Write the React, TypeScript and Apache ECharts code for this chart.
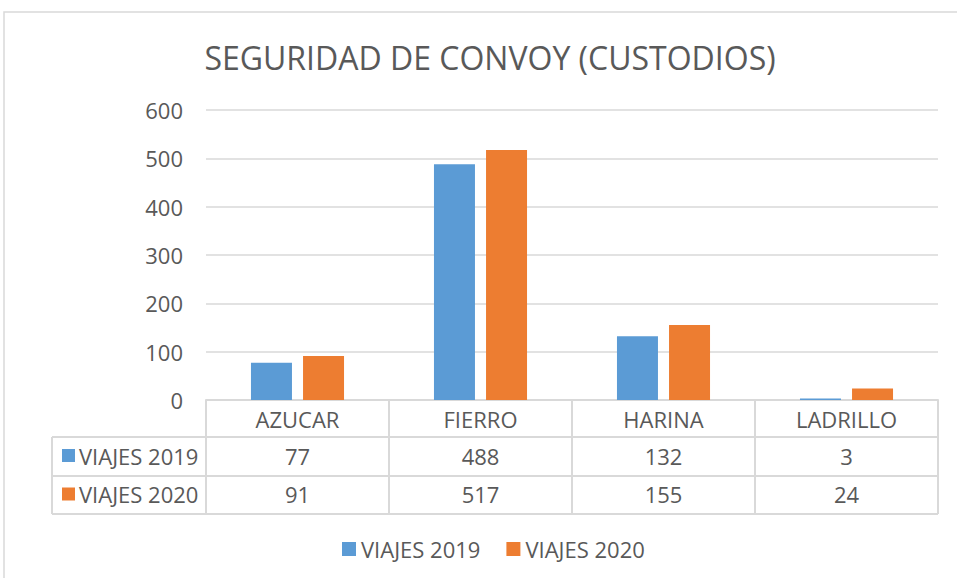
import React, { useEffect, useRef } from "react";
import * as echarts from "echarts";

const categories = ["AZUCAR", "FIERRO", "HARINA", "LADRILLO"];
const seriesNames = ["VIAJES 2019", "VIAJES 2020"];
const viajes2019 = [77, 488, 132, 3];
const viajes2020 = [91, 517, 155, 24];
const colors = ["#5b9bd5", "#ed7d31"];

const FONT = "'Open Sans', 'Noto Sans', sans-serif";
const TXT = "#595959";
const LINE = "#d9d9d9";
const FS = 22;

export default function App() {
  const ref = useRef<HTMLDivElement>(null);
  useEffect(() => {
    document.body.style.margin = "0";
    if (!ref.current) return;
    const chart = echarts.init(ref.current, null, { renderer: "svg" });
    const gridLeft = 206;
    const gridRight = 19;
    const gridTop = 110;
    const gridBottom = 178;
    chart.setOption({
      animation: false,
      backgroundColor: "#ffffff",
      textStyle: { fontFamily: FONT },
      title: {
        text: "SEGURIDAD DE CONVOY (CUSTODIOS)",
        left: 485,
        textAlign: "center",
        top: 36,
        textStyle: { fontFamily: FONT, fontSize: 32, fontWeight: "normal", color: TXT },
      },
      legend: {
        data: seriesNames,
        left: 337,
        top: 533,
        icon: "rect",
        itemWidth: 14,
        itemHeight: 14,
        itemGap: 26,
        textStyle: { fontFamily: FONT, fontSize: FS, color: TXT, padding: [0, 0, 0, 0] },
      },
      grid: { left: gridLeft, right: gridRight, top: gridTop, bottom: gridBottom },
      xAxis: {
        type: "category",
        data: categories,
        axisLine: { lineStyle: { color: LINE, width: 2 } },
        axisTick: { show: false },
        axisLabel: { margin: 8, fontFamily: FONT, fontSize: FS, color: TXT },
      },
      yAxis: {
        type: "value",
        min: 0,
        max: 600,
        interval: 100,
        axisLine: { show: false },
        axisTick: { show: false },
        axisLabel: { margin: 23, fontFamily: FONT, fontSize: FS, color: TXT },
        splitLine: { lineStyle: { color: LINE, width: 1.5 } },
      },
      series: [
        {
          name: seriesNames[0],
          type: "bar",
          data: viajes2019,
          barWidth: 41,
          barGap: "27%",
          itemStyle: { color: colors[0] },
        },
        {
          name: seriesNames[1],
          type: "bar",
          data: viajes2020,
          barWidth: 41,
          itemStyle: { color: colors[1] },
        },
      ],
    });

    // Build the data table below the axis from the arrays
    const c0 = chart.convertToPixel({ xAxisIndex: 0 }, categories[0]) as number;
    const c1 = chart.convertToPixel({ xAxisIndex: 0 }, categories[1]) as number;
    const bw = c1 - c0;
    const axisY = chart.convertToPixel({ yAxisIndex: 0 }, 0) as number;
    const rowH = [37, 39, 38];
    const rowTop = [axisY, axisY + rowH[0], axisY + rowH[0] + rowH[1]];
    const tableBottom = rowTop[2] + rowH[2];
    const leftColX = 52;
    const firstX = c0 - bw / 2;
    const lastX = firstX + bw * categories.length;
    const lineStyle = { stroke: LINE, lineWidth: 2 };
    const g: any[] = [];
    g.push({
      type: "rect",
      shape: { x: 4, y: 12, width: 1100, height: 700 },
      style: { fill: "none", stroke: LINE, lineWidth: 1.5 },
      silent: true,
    });
    for (let r = 1; r <= 3; r++) {
      const y = r < 3 ? rowTop[r] : tableBottom;
      g.push({ type: "line", shape: { x1: leftColX, y1: y, x2: lastX, y2: y }, style: lineStyle, silent: true });
    }
    g.push({ type: "line", shape: { x1: leftColX, y1: rowTop[1], x2: leftColX, y2: tableBottom }, style: lineStyle, silent: true });
    for (let i = 0; i <= categories.length; i++) {
      const x = firstX + bw * i;
      g.push({ type: "line", shape: { x1: x, y1: axisY, x2: x, y2: tableBottom }, style: lineStyle, silent: true });
    }
    const rows = [viajes2019, viajes2020];
    rows.forEach((vals, r) => {
      const cy = rowTop[r + 1] + rowH[r + 1] / 2 - 1;
      g.push({
        type: "rect",
        shape: { x: 62, y: cy - 6.5, width: 13, height: 13 },
        style: { fill: colors[r] },
        silent: true,
      });
      g.push({
        type: "text",
        x: 79,
        y: cy,
        style: { text: seriesNames[r], fontFamily: FONT, fontSize: FS, fill: TXT, textVerticalAlign: "middle", textAlign: "left" },
        silent: true,
      });
      vals.forEach((v, i) => {
        const cx = chart.convertToPixel({ xAxisIndex: 0 }, categories[i]) as number;
        g.push({
          type: "text",
          x: cx,
          y: cy,
          style: { text: String(v), fontFamily: FONT, fontSize: FS, fill: TXT, textAlign: "center", textVerticalAlign: "middle" },
          silent: true,
        });
      });
    });
    chart.setOption({ graphic: g });

    return () => chart.dispose();
  }, []);
  return <div ref={ref} style={{ width: 957, height: 578 }} />;
}
